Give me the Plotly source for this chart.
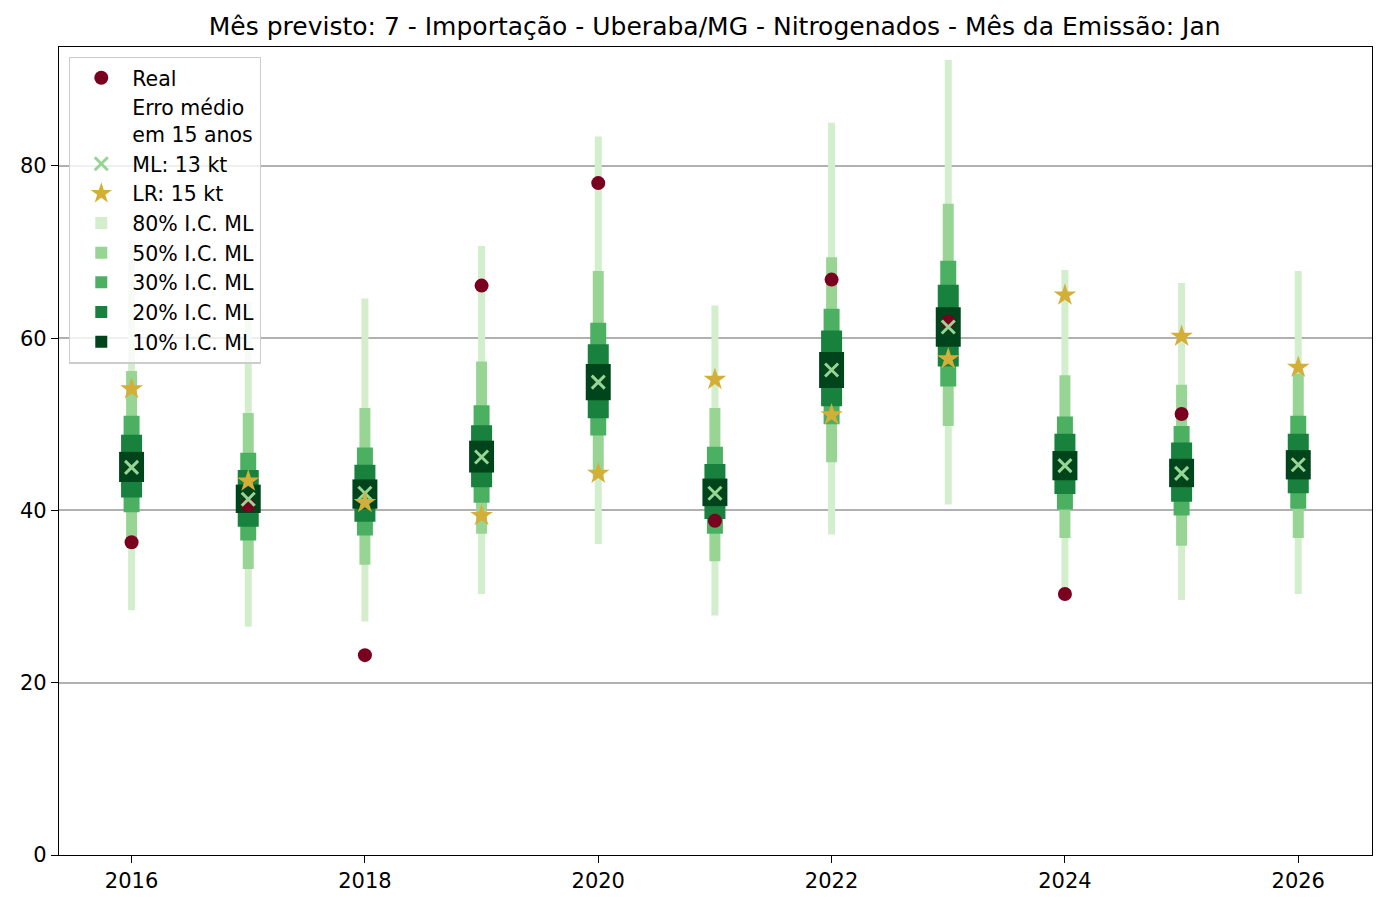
import plotly.graph_objects as go

years = [2016, 2017, 2018, 2019, 2020, 2021, 2022, 2023, 2024, 2025, 2026]
real = [36.3, 40.6, 23.2, 66.1, 78.0, 38.8, 66.8, 61.9, 30.3, 51.2, None]
ml = [45.0, 41.3, 42.0, 46.2, 54.9, 42.0, 56.3, 61.3, 45.2, 44.3, 45.3]
lr = [54.1, 43.4, 40.9, 39.4, 44.3, 55.2, 51.1, 57.6, 65.0, 60.2, 56.6]

ci80_low = [28.4, 26.5, 27.1, 30.3, 36.1, 27.8, 37.2, 40.7, 30.7, 29.6, 30.3]
ci80_high = [71.3, 64.2, 64.6, 70.7, 83.4, 63.8, 85.0, 92.3, 67.9, 66.4, 67.8]
ci50_low = [35.8, 33.2, 33.7, 37.3, 43.8, 34.1, 45.6, 49.8, 36.8, 35.9, 36.8]
ci50_high = [56.2, 51.3, 51.9, 57.3, 67.8, 51.9, 69.4, 75.6, 55.7, 54.6, 55.9]
ci30_low = [39.8, 36.5, 37.1, 40.9, 48.7, 37.3, 50.0, 54.4, 40.1, 39.4, 40.2]
ci30_high = [51.0, 46.7, 47.3, 52.2, 61.8, 47.4, 63.4, 69.0, 50.9, 49.8, 51.0]
ci20_low = [41.5, 38.1, 38.7, 42.7, 50.7, 39.0, 52.1, 56.7, 41.9, 41.0, 42.0]
ci20_high = [48.8, 44.7, 45.3, 49.9, 59.3, 45.4, 60.9, 66.2, 48.9, 47.9, 48.9]
ci10_low = [43.3, 39.7, 40.2, 44.4, 52.8, 40.5, 54.2, 59.0, 43.5, 42.7, 43.6]
ci10_high = [46.8, 43.0, 43.6, 48.1, 57.0, 43.7, 58.4, 63.6, 46.9, 46.0, 47.0]

ci_labels = ["80% I.C. ML", "50% I.C. ML", "30% I.C. ML", "20% I.C. ML", "10% I.C. ML"]
ci_lows = [ci80_low, ci50_low, ci30_low, ci20_low, ci10_low]
ci_highs = [ci80_high, ci50_high, ci30_high, ci20_high, ci10_high]
ci_colors = ["#d3eecd", "#98d594", "#4bb062", "#17813d", "#00441b"]
ci_widths = [0.06, 0.094, 0.137, 0.18, 0.214]

title = "Mês previsto: 7 - Importação - Uberaba/MG - Nitrogenados - Mês da Emissão: Jan"

fig = go.Figure()

for i, (lab, lo, hi, col, w) in enumerate(zip(ci_labels, ci_lows, ci_highs, ci_colors, ci_widths)):
    fig.add_trace(go.Bar(
        x=years, y=[h - l for h, l in zip(hi, lo)], base=lo, width=w,
        marker=dict(color=col, line=dict(width=0)), name=lab,
        legendrank=5 + i, hoverinfo="skip"))

fig.add_trace(go.Scatter(
    x=years, y=real, mode="markers", name="Real", legendrank=1,
    marker=dict(color="#7a0020", size=14, symbol="circle")))

fig.add_trace(go.Scatter(
    x=[None], y=[None], mode="markers", name="Erro médio<br>em 15 anos", legendrank=2,
    marker=dict(color="rgba(0,0,0,0)", size=1)))

fig.add_trace(go.Scatter(
    x=years, y=ml, mode="markers", name="ML: 13 kt", legendrank=3,
    marker=dict(symbol="x-thin", size=13, line=dict(color="#98d594", width=3), color="#98d594")))

fig.add_trace(go.Scatter(
    x=years, y=lr, mode="markers", name="LR: 15 kt", legendrank=4,
    marker=dict(symbol="star", size=17, color="#d4af37", line=dict(width=0))))

axis_common = dict(
    showline=True, linecolor="black", linewidth=1.3, mirror=True,
    ticks="outside", ticklen=7, tickwidth=1.3, tickcolor="black",
    tickfont=dict(size=21, color="black", family="DejaVu Sans"),
    zeroline=False,
)

W, H = 1379, 898
fig.update_layout(
    width=W, height=H,
    margin=dict(l=47, r=15, t=39, b=51),
    paper_bgcolor="white", plot_bgcolor="white",
    barmode="overlay",
    font=dict(family="DejaVu Sans", size=21, color="black"),
    title=dict(text=title, x=0.5125, xanchor="center", y=1 - 18 / H, yanchor="middle",
               yref="container", font=dict(size=25, color="black")),
    xaxis=dict(range=[2015.378, 2026.632], tickvals=[2016, 2018, 2020, 2022, 2024, 2026],
               showgrid=False, **axis_common),
    yaxis=dict(range=[0, 93.8], tickvals=[0, 20, 40, 60, 80], showgrid=True,
               gridcolor="#b0b0b0", gridwidth=1.6, **axis_common),
    legend=dict(x=0.0076, y=0.988, xanchor="left", yanchor="top",
                bgcolor="rgba(255,255,255,0.8)", bordercolor="#cccccc", borderwidth=1.3,
                font=dict(size=20.5, color="black"), traceorder="normal", itemwidth=52),
    showlegend=True,
)

fig.write_html("out.html")
